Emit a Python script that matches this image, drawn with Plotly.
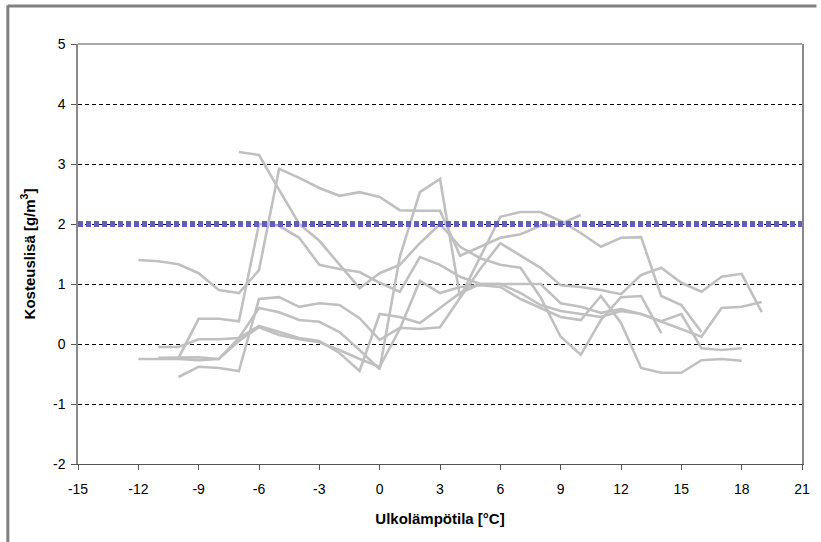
import plotly.graph_objects as go

# Outdoor temperature steps (°C) and moisture excess (g/m3) per measured dwelling
x_a = list(range(-12, 11))
y_a = [1.40, 1.38, 1.33, 1.18, 0.90, 0.85, 1.23, 2.92, 2.77, 2.60, 2.47, 2.53,
       2.45, 2.23, 2.22, 2.22, 1.47, 1.62, 1.77, 1.83, 1.97, 2.00, 2.15]

x_b = list(range(-7, 15))
y_b = [3.20, 3.15, 2.57, 2.00, 1.72, 1.33, 0.93, 1.18, 1.32, 1.68, 2.00, 1.62,
       1.43, 1.32, 1.27, 0.78, 0.12, -0.18, 0.40, 0.78, 0.80, 0.18]

x_c = list(range(-10, 20))
y_c = [-0.23, 0.42, 0.42, 0.38, 2.00, 1.97, 1.77, 1.32, 1.25, 1.20, 1.02, 0.87,
       1.45, 1.32, 1.12, 1.00, 1.00, 1.00, 1.00, 0.68, 0.62, 0.52, 0.58, 0.50,
       0.37, 0.25, 0.12, 0.60, 0.62, 0.70]

x_d = list(range(-11, 17))
y_d = [-0.05, -0.05, 0.08, 0.08, 0.10, 0.60, 0.53, 0.40, 0.37, 0.20, -0.10,
       -0.42, 1.45, 2.53, 2.75, 0.78, 1.45, 2.12, 2.20, 2.20, 2.05, 1.85, 1.62,
       1.77, 1.78, 0.80, 0.65, 0.20]

x_e = list(range(-10, 20))
y_e = [-0.55, -0.38, -0.40, -0.45, 0.75, 0.78, 0.62, 0.68, 0.65, 0.43, 0.07,
       0.27, 0.25, 0.28, 0.77, 1.25, 1.68, 1.48, 1.27, 0.98, 0.95, 0.90, 0.83,
       1.15, 1.27, 1.02, 0.87, 1.12, 1.17, 0.53]

x_f = list(range(-11, 19))
y_f = [-0.23, -0.22, -0.22, -0.25, 0.10, 0.30, 0.20, 0.10, 0.05, -0.15, -0.45,
       0.50, 0.45, 0.35, 0.60, 0.85, 1.00, 1.00, 0.85, 0.65, 0.55, 0.50, 0.45,
       0.55, 0.50, 0.38, 0.50, -0.07, -0.10, -0.07]

x_g = list(range(-12, 19))
y_g = [-0.25, -0.25, -0.25, -0.27, -0.25, 0.05, 0.28, 0.15, 0.08, 0.03, -0.10,
       -0.25, -0.38, 0.25, 1.05, 0.85, 0.95, 0.98, 0.95, 0.75, 0.60, 0.45, 0.40,
       0.80, 0.35, -0.40, -0.48, -0.48, -0.27, -0.25, -0.28]

series = [(x_a, y_a), (x_b, y_b), (x_c, y_c), (x_d, y_d),
          (x_e, y_e), (x_f, y_f), (x_g, y_g)]

# Target level for moisture excess
limit_x = [-15, 21]
limit_y = [2, 2]

x_ticks = list(range(-15, 22, 3))
y_ticks = list(range(-2, 6))

fig = go.Figure()
for xs, ys in series:
    fig.add_trace(go.Scatter(x=xs, y=ys, mode="lines",
                             line=dict(color="#C0C0C0", width=2.6),
                             showlegend=False, hoverinfo="skip"))

fig.add_trace(go.Scatter(x=limit_x, y=limit_y, mode="lines",
                         line=dict(color="#5F5FBF", width=6, dash="5px,3px"),
                         showlegend=False, hoverinfo="skip"))

font = "Liberation Sans, Arial, sans-serif"

fig.update_layout(
    width=821, height=542,
    margin=dict(l=78, r=11, t=44, b=78),
    paper_bgcolor="white", plot_bgcolor="white",
    font=dict(family=font, size=14, color="black"),
    xaxis=dict(range=[-15, 21], tickvals=x_ticks, ticktext=[str(v) for v in x_ticks],
               showgrid=False, zeroline=False, showline=True, linecolor="#555555",
               linewidth=1, ticks="outside", ticklen=5, tickcolor="#555555",
               ticklabelstandoff=7, tickfont=dict(size=14),
               title=dict(text="<b>Ulkolämpötila [°C]</b>", font=dict(size=15), standoff=17)),
    yaxis=dict(range=[-2, 5], tickvals=y_ticks, ticktext=[str(v) for v in y_ticks],
               showgrid=True, gridcolor="black", gridwidth=1, griddash="4px,3px",
               zeroline=False, showline=True, linecolor="#888888", linewidth=1.5,
               mirror=True, ticks="outside", ticklen=5, tickcolor="#555555",
               ticklabelstandoff=3, tickfont=dict(size=14),
               title=dict(text="<b>Kosteuslisä [g/m<sup>3</sup>]</b>", font=dict(size=15), standoff=14)),
    shapes=[
        # top edge of plot area
        dict(type="line", xref="paper", yref="paper", x0=0, x1=1, y0=1, y1=1,
             line=dict(color="#888888", width=1.5)),
        # outer frame, left and top
        dict(type="line", xref="paper", yref="paper", x0=-0.0969, x1=-0.0969,
             y0=-0.2, y1=1.092, line=dict(color="#808080", width=3)),
        dict(type="line", xref="paper", yref="paper", x0=-0.0969, x1=1.02,
             y0=1.0905, y1=1.0905, line=dict(color="#808080", width=3)),
    ],
)

fig.write_html("out.html")
